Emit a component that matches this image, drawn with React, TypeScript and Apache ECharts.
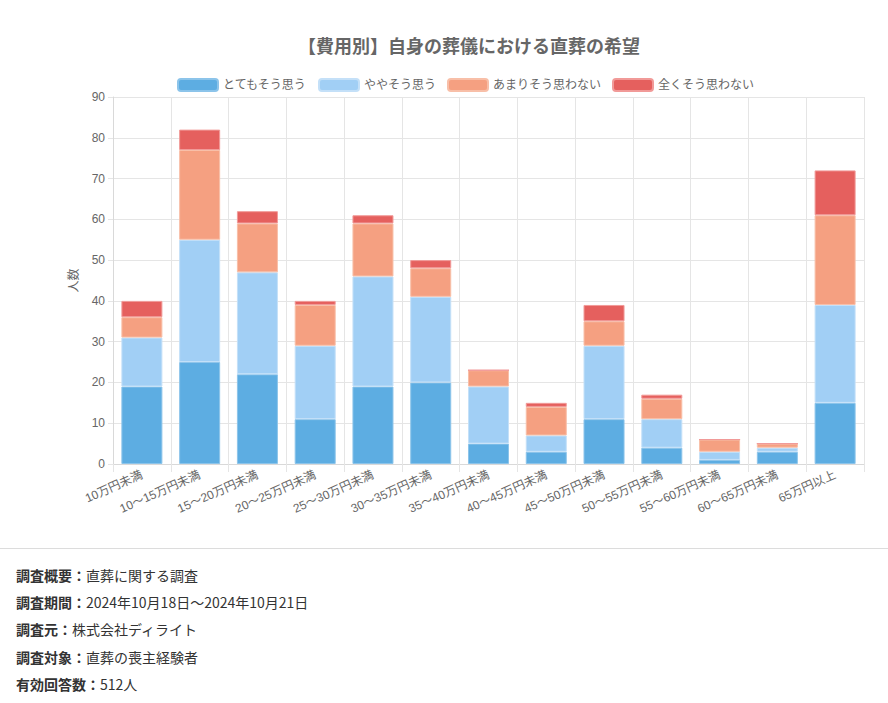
import React, { useEffect, useRef } from "react";
import * as echarts from "echarts";

const categories = [
  "10万円未満", "10～15万円未満", "15～20万円未満", "20～25万円未満", "25～30万円未満",
  "30～35万円未満", "35～40万円未満", "40～45万円未満", "45～50万円未満", "50～55万円未満",
  "55～60万円未満", "60～65万円未満", "65万円以上",
];
const seriesNames = ["とてもそう思う", "ややそう思う", "あまりそう思わない", "全くそう思わない"];
const veryMuch = [19, 25, 22, 11, 19, 20, 5, 3, 11, 4, 1, 3, 15];
const somewhat = [12, 30, 25, 18, 27, 21, 14, 4, 18, 7, 2, 1, 24];
const notMuch = [5, 22, 12, 10, 13, 7, 4, 7, 6, 5, 3, 1, 22];
const notAtAll = [4, 5, 3, 1, 2, 2, 0, 1, 4, 1, 0, 0, 11];
const colors = ["#5dade2", "#a1cff5", "#f5a081", "#e5605e"];
const borders = ["#8cc4ea", "#c4e0f8", "#f8bfa8", "#f19a98"];

const footerRows: [string, string][] = [
  ["調査概要：", "直葬に関する調査"],
  ["調査期間：", "2024年10月18日～2024年10月21日"],
  ["調査元：", "株式会社ディライト"],
  ["調査対象：", "直葬の喪主経験者"],
  ["有効回答数：", "512人"],
];

const FONT = "'Liberation Sans', 'Noto Sans CJK JP', sans-serif";

export default function App() {
  const ref = useRef<HTMLDivElement>(null);
  useEffect(() => {
    if (!ref.current) return;
    const chart = echarts.init(ref.current, undefined, { renderer: "svg" });
    const data = [veryMuch, somewhat, notMuch, notAtAll];
    chart.setOption({
      animation: false,
      textStyle: { fontFamily: FONT },
      title: {
        text: "【費用別】自身の葬儀における直葬の希望",
        left: 464,
        textAlign: "center",
        top: 33,
        textStyle: { fontSize: 18, fontWeight: "bold", color: "#666", fontFamily: FONT },
      },
      legend: {
        top: 73,
        left: 172,
        itemWidth: 40,
        itemHeight: 12,
        itemGap: 11,
        textStyle: { fontSize: 12, color: "#666", fontFamily: FONT },
        data: seriesNames,
      },
      grid: { left: 113, right: 24, top: 97, bottom: 76 },
      xAxis: {
        type: "category",
        data: categories,
        boundaryGap: true,
        axisLine: { lineStyle: { color: "#d9d9d9" } },
        axisTick: { show: true, length: 8, lineStyle: { color: "#e5e5e5" } },
        splitLine: { show: true, lineStyle: { color: "#e5e5e5" } },
        axisLabel: { rotate: 24, color: "#666", fontSize: 12, margin: 10, fontFamily: FONT },
      },
      yAxis: {
        type: "value",
        min: 0,
        max: 90,
        interval: 10,
        name: "人数",
        nameLocation: "middle",
        nameGap: 33,
        nameRotate: 90,
        nameTextStyle: { color: "#666", fontSize: 12, fontFamily: FONT },
        axisLine: { show: true, lineStyle: { color: "#d9d9d9" } },
        axisTick: { show: true, length: 5, lineStyle: { color: "#e5e5e5" } },
        splitLine: { show: true, lineStyle: { color: "#e5e5e5" } },
        axisLabel: { color: "#666", fontSize: 12, margin: 8, fontFamily: FONT },
      },
      series: seriesNames.map((name, i) => ({
        name,
        type: "bar",
        stack: "total",
        barWidth: "71%",
        data: data[i],
        itemStyle: { color: colors[i], borderColor: borders[i], borderWidth: 1 },
      })),
    });
    return () => chart.dispose();
  }, []);

  return (
    <div style={{ position: "absolute", left: 0, top: 0, width: 888, height: 703, background: "#fff" }}>
      <div ref={ref} style={{ position: "absolute", left: 0, top: 0, width: 888, height: 540 }} />
      <div style={{ position: "absolute", left: 0, top: 548, width: 888, height: 1, background: "#dcdcdc" }} />
      {footerRows.map((r, i) => (
        <div
          key={i}
          style={{
            position: "absolute",
            left: 16,
            top: 565 + i * 27.2,
            fontSize: 14,
            lineHeight: "20px",
            color: "#333",
            fontFamily: "'Noto Sans CJK JP', 'Liberation Sans', sans-serif",
            whiteSpace: "nowrap",
          }}
        >
          <span style={{ fontWeight: "bold" }}>{r[0]}</span>
          <span>{r[1]}</span>
        </div>
      ))}
    </div>
  );
}
